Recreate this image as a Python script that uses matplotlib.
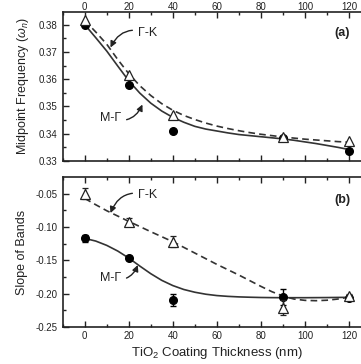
import matplotlib
matplotlib.use('Agg')
import matplotlib.pyplot as plt
from matplotlib.ticker import MultipleLocator

plt.rcParams['font.family'] = ['Liberation Sans', 'DejaVu Sans']
plt.rcParams['mathtext.fontset'] = 'custom'
plt.rcParams['mathtext.rm'] = 'Liberation Sans'
plt.rcParams['mathtext.it'] = 'Liberation Sans:italic'

# measured points
thickness = [0, 20, 40, 90, 120]
freq_mg = [0.3800, 0.3577, 0.3410, 0.3384, 0.3337]
freq_gk = [0.3816, 0.3615, 0.3468, 0.3388, 0.3375]
slope_mg = [-0.117, -0.147, -0.209, -0.205, -0.206]
slope_mg_err = [0.005, 0.003, 0.009, 0.012, 0.004]
slope_gk = [-0.050, -0.093, -0.122, -0.221, -0.204]
slope_gk_err = [0.008, 0.006, 0.008, 0.011, 0.003]

# fitted curves, every 5 nm
fit_x = [0, 5, 10, 15, 20, 25, 30, 35, 40, 45, 50, 55, 60,
         65, 70, 75, 80, 85, 90, 95, 100, 105, 110, 115, 120]
fit_freq_mg = [0.3800, 0.3752, 0.3703, 0.3648, 0.3594, 0.3549, 0.3512,
               0.3483, 0.3460, 0.3442, 0.3427, 0.3417, 0.3410, 0.3403,
               0.3397, 0.3393, 0.3389, 0.3385, 0.3381, 0.3376, 0.3370,
               0.3364, 0.3357, 0.3350, 0.3342]
fit_freq_gk = [0.3815, 0.3773, 0.3728, 0.3672, 0.3620, 0.3576, 0.3540,
               0.3510, 0.3486, 0.3467, 0.3452, 0.3439, 0.3428, 0.3419,
               0.3411, 0.3404, 0.3398, 0.3393, 0.3388, 0.3384, 0.3380,
               0.3377, 0.3374, 0.3371, 0.3369]
fit_slope_mg = [-0.1170, -0.1210, -0.1275, -0.1360, -0.1465, -0.1585,
                -0.1700, -0.1800, -0.1878, -0.1937, -0.1978, -0.2008,
                -0.2028, -0.2040, -0.2048, -0.2053, -0.2057, -0.2059,
                -0.2060, -0.2060, -0.2060, -0.2059, -0.2058, -0.2056,
                -0.2055]
fit_slope_gk = [-0.0570, -0.0665, -0.0755, -0.0835, -0.0915, -0.0992,
                -0.1070, -0.1145, -0.1220, -0.1305, -0.1390, -0.1475,
                -0.1560, -0.1640, -0.1720, -0.1805, -0.1890, -0.1970,
                -0.2035, -0.2080, -0.2100, -0.2105, -0.2098, -0.2080,
                -0.2050]

ink = '#222222'


def style_axes(ax):
    for sp in ax.spines.values():
        sp.set_linewidth(1.2)
        sp.set_color(ink)
    ax.xaxis.set_major_locator(MultipleLocator(20))
    ax.xaxis.set_minor_locator(MultipleLocator(10))
    ax.tick_params(which='both', direction='in', top=True, bottom=True,
                   left=True, right=True, colors=ink, labelsize=7)
    ax.tick_params(which='major', length=4, width=1)
    ax.tick_params(which='minor', length=2, width=1)
    ax.set_xlim(-10, 130)


def add_note(ax, text, xy_text, xy_arrow, rad):
    ax.annotate(text, xy=xy_arrow, xytext=xy_text, fontsize=9, color=ink,
                ha='center', va='center',
                arrowprops=dict(arrowstyle='-|>', color=ink, lw=1,
                                mutation_scale=9, shrinkA=2, shrinkB=0,
                                connectionstyle='arc3,rad=%s' % rad))


fig = plt.figure(figsize=(3.61, 3.64), dpi=100)
ax1 = fig.add_axes([0.1737, 0.5577, 0.854, 0.4107])
ax2 = fig.add_axes([0.1737, 0.1016, 0.854, 0.4110])

# panel (a)
ax1.plot(fit_x, fit_freq_mg, '-', color='#333333', lw=1.2, zorder=2)
ax1.plot(fit_x, fit_freq_gk, '--', color='#333333', lw=1.2,
         dashes=(4, 2.5), zorder=2)
ax1.plot(thickness, freq_mg, 'o', color='black', ms=5.5, zorder=3)
ax1.plot(thickness, freq_gk, '^', mfc='white', mec=ink, mew=0.9, ms=6.5,
         zorder=4)
style_axes(ax1)
ax1.tick_params(axis='x', labeltop=True, labelbottom=False, pad=-0.5)
ax1.set_ylim(0.33, 0.3848)
ax1.yaxis.set_major_locator(MultipleLocator(0.01))
ax1.yaxis.set_minor_locator(MultipleLocator(0.005))
ax1.set_yticklabels(['%.2f' % v for v in ax1.get_yticks()])
ax1.set_ylabel(r'Midpoint Frequency ($\omega_n$)', fontsize=9, color=ink,
               labelpad=6)
ax1.text(0.906, 0.856, '(a)', transform=ax1.transAxes, fontsize=9,
         fontweight='bold', ha='center', va='center', color=ink)
add_note(ax1, '\u0393-K', (28.5, 0.3770), (11.7, 0.3716), 0.45)
add_note(ax1, 'M-\u0393', (11.7, 0.3456), (26.2, 0.3507), 0.45)

# panel (b)
ax2.plot(fit_x, fit_slope_mg, '-', color='#333333', lw=1.2, zorder=2)
ax2.plot(fit_x, fit_slope_gk, '--', color='#333333', lw=1.2,
         dashes=(4, 2.5), zorder=2)
ax2.errorbar(thickness, slope_mg, yerr=slope_mg_err, fmt='o', color='black',
             ms=5.5, capsize=2.5, elinewidth=1, capthick=1, zorder=3)
ax2.errorbar(thickness, slope_gk, yerr=slope_gk_err, fmt='^', mfc='white',
             mec=ink, mew=0.9, ms=6.5, ecolor=ink, capsize=2.5,
             elinewidth=1, capthick=1, zorder=4)
style_axes(ax2)
ax2.tick_params(axis='x', pad=3)
ax2.set_ylim(-0.25, -0.0255)
ax2.yaxis.set_major_locator(MultipleLocator(0.05))
ax2.yaxis.set_minor_locator(MultipleLocator(0.025))
ax2.set_yticklabels(['%.2f' % v for v in ax2.get_yticks()])
ax2.set_ylabel('Slope of Bands', fontsize=9, color=ink, labelpad=6)
ax2.set_xlabel(r'TiO$_2$ Coating Thickness (nm)', fontsize=9.5, color=ink,
               labelpad=3)
ax2.text(0.906, 0.849, '(b)', transform=ax2.transAxes, fontsize=9,
         fontweight='bold', ha='center', va='center', color=ink)
add_note(ax2, '\u0393-K', (28.5, -0.0515), (11.7, -0.0790), 0.45)
add_note(ax2, 'M-\u0393', (11.7, -0.1768), (24.1, -0.1570), 0.45)

fig.savefig('out.png', dpi=100)
